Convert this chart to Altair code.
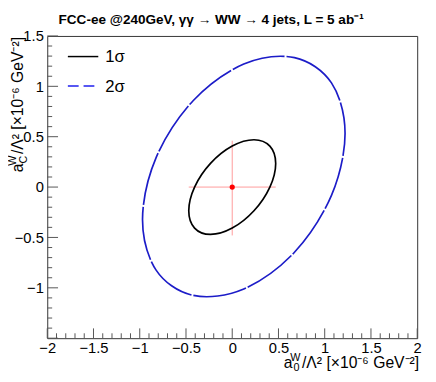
import altair as alt
import pandas as pd

# ---- data ----
# 1 sigma contour (a0, aC) points, x10^-6 GeV^-2
s1_x = [0.47, 0.407, 0.235, 0.0, -0.235, -0.407, -0.47, -0.407, -0.235, 0.0, 0.235, 0.407]
s1_y = [0.235, 0.407, 0.47, 0.407, 0.235, 0.0, -0.235, -0.407, -0.47, -0.407, -0.235, 0.0]
# 2 sigma contour
s2_x = [1.22, 1.073, 0.673, 0.125, -0.423, -0.823, -0.97, -0.823, -0.423, 0.125, 0.673, 1.073]
s2_y = [0.533, 1.034, 1.285, 1.221, 0.857, 0.292, -0.323, -0.824, -1.075, -1.011, -0.647, -0.082]
# best fit point and its errors
best_x = [0.0]
best_y = [0.0]
err_x = [-0.47, 0.47]
err_y = [-0.48, 0.46]

x_labels = [-2, -1.5, -1, -0.5, 0, 0.5, 1, 1.5, 2]
y_labels = [-1, -0.5, 0, 0.5, 1, 1.5]
x_major = [-2, -1.5, -1, -0.5, 0, 0.5, 1, 1.5, 2]
y_major = [-1.5, -1, -0.5, 0, 0.5, 1, 1.5]
x_minor = [round(-2 + 0.1 * k, 2) for k in range(41) if k % 5]
y_minor = [round(-1.5 + 0.1 * k, 2) for k in range(31) if k % 5]

W, H = 377, 308
FONT = "Liberation Sans"
TICK = "#555555"

xs = alt.Scale(domain=[-2, 2], nice=False, zero=False)
ys = alt.Scale(domain=[-1.5, 1.5], nice=False, zero=False)
lab = "replace(format(datum.value, '~g'), '-', '\u2212')"
xaxis = alt.Axis(values=x_labels, title=None, ticks=False, domain=False, grid=False,
                 labelFont=FONT, labelFontSize=15, labelColor="black", labelPadding=3,
                 labelExpr=lab, labelFlush=False, labelOverlap=False)
yaxis = alt.Axis(values=y_labels, title=None, ticks=False, domain=False, grid=False,
                 labelFont=FONT, labelFontSize=15, labelColor="black", labelPadding=4,
                 labelExpr=lab, labelFlush=False, labelOverlap=False)

def X(f="x"):
    return alt.X(f, type="quantitative", scale=xs, axis=xaxis)

def Y(f="y"):
    return alt.Y(f, type="quantitative", scale=ys, axis=yaxis)

layers = []
# tick marks (inside the frame)
layers.append(alt.Chart(pd.DataFrame({"x": x_major})).mark_rule(color=TICK, strokeWidth=1)
              .encode(x=X(), y=alt.value(H), y2=alt.value(H - 10)))
layers.append(alt.Chart(pd.DataFrame({"x": x_minor})).mark_rule(color=TICK, strokeWidth=1)
              .encode(x=X(), y=alt.value(H), y2=alt.value(H - 5)))
layers.append(alt.Chart(pd.DataFrame({"y": y_major})).mark_rule(color=TICK, strokeWidth=1)
              .encode(y=Y(), x=alt.value(0), x2=alt.value(11)))
layers.append(alt.Chart(pd.DataFrame({"y": y_minor})).mark_rule(color=TICK, strokeWidth=1)
              .encode(y=Y(), x=alt.value(0), x2=alt.value(5)))

# error bars
layers.append(alt.Chart(pd.DataFrame({"x": [err_x[0]], "x2": [err_x[1]], "y": best_y}))
              .mark_rule(color="#ff9a9a", strokeWidth=1)
              .encode(x=X(), x2="x2:Q", y=Y()))
layers.append(alt.Chart(pd.DataFrame({"y": [err_y[0]], "y2": [err_y[1]], "x": best_x}))
              .mark_rule(color="#ff9a9a", strokeWidth=1)
              .encode(y=Y(), y2="y2:Q", x=X()))

# contours
d1 = pd.DataFrame({"x": s1_x, "y": s1_y, "i": list(range(len(s1_x)))})
d2 = pd.DataFrame({"x": s2_x, "y": s2_y, "i": list(range(len(s2_x)))})
layers.append(alt.Chart(d1).mark_line(interpolate="cardinal-closed", color="black", strokeWidth=1.7)
              .encode(x=X(), y=Y(), order="i:Q"))
layers.append(alt.Chart(d2).mark_line(interpolate="cardinal-closed", color="#1c1cc8", strokeWidth=1.7,
                                      strokeDash=[55, 2])
              .encode(x=X(), y=Y(), order="i:Q"))

# best point
layers.append(alt.Chart(pd.DataFrame({"x": best_x, "y": best_y}))
              .mark_circle(color="#ff0000", size=28, opacity=1)
              .encode(x=X(), y=Y()))

# legend
layers.append(alt.Chart(pd.DataFrame({"k": [1]})).mark_rule(color="black", strokeWidth=1.5)
              .encode(x=alt.value(21), x2=alt.value(52), y=alt.value(21)))
layers.append(alt.Chart(pd.DataFrame({"k": [1]})).mark_rule(color="#2020ee", strokeWidth=1.5,
                                                           strokeDash=[11, 5])
              .encode(x=alt.value(21), x2=alt.value(52), y=alt.value(51)))

def txt(s, x, y, size=16, align="left", angle=0, weight="normal"):
    m = alt.Chart(pd.DataFrame({"k": [1]})).mark_text(
        font=FONT, fontSize=size, align=align, baseline="alphabetic", angle=angle,
        fontWeight=weight, color="black")
    return m.encode(x=alt.value(x), y=alt.value(y), text=alt.value(s))

layers.append(txt("1\u03c3", 59, 27, 17))
layers.append(txt("2\u03c3", 59, 57, 17))

# title
layers.append(txt("FCC-ee @240GeV, \u03b3\u03b3 \u2192 WW  \u2192 4 jets, L = 5 ab\u207b\u00b9",
                  167, -12, 13.8, "center", weight="bold"))

# x axis title: a_0^W / Lambda^2 [x10^-6 GeV^-2]
main = "/\u039b\u00b2 [\u00d710\u207b\u2076 GeV\u207b\u00b2]"
layers.append(txt(main, 379, 338, 16, "right"))
layers.append(txt("W", 258, 331, 11, "right"))
layers.append(txt("0", 257, 341, 11, "right"))
layers.append(txt("a", 250, 338, 16, "right"))

# y axis title: a_C^W / Lambda^2 [x10^-6 GeV^-2]
layers.append(txt(main, -25, 1, 16, "right", 270))
layers.append(txt("W", -32, 122, 11, "right", 270))
layers.append(txt("C", -21, 122, 11, "right", 270))
layers.append(txt("a", -25, 130, 16, "right", 270))

chart = alt.layer(*layers).properties(
    width=W, height=H,
    autosize=alt.AutoSizeParams(type="none"),
    padding={"left": 40, "top": 25, "right": 11, "bottom": 33},
).configure_view(stroke="#333333", strokeWidth=1)

chart.save("out.html", embed_options={"renderer": "svg", "actions": False})
